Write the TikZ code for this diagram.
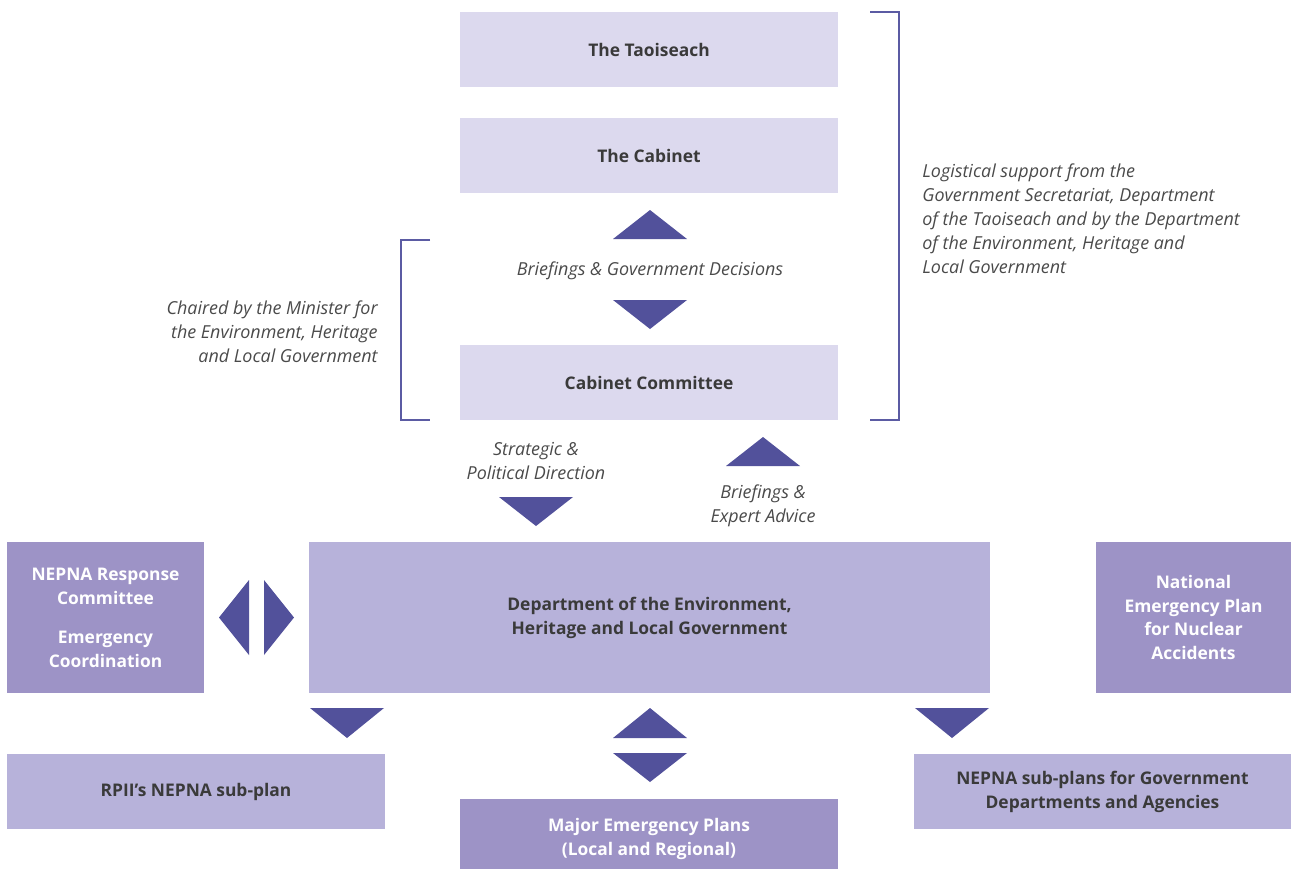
\documentclass[tikz,border=0pt]{standalone}
\usepackage{fontspec}
\setmainfont{Open Sans}
\usepackage{xcolor}
\usepackage{tikz}
\usetikzlibrary{positioning,calc}

\definecolor{lilac}{HTML}{DCD9EE}
\definecolor{midlilac}{HTML}{B7B2DA}
\definecolor{darklilac}{HTML}{9D93C6}
\definecolor{arrowblue}{HTML}{52519B}
\definecolor{bracketblue}{HTML}{5B5BA3}
\definecolor{textgrey}{HTML}{3A3A3A}
\definecolor{notegrey}{HTML}{4A4A4A}

\begin{document}
\begin{tikzpicture}[x=0.02cm, y=-0.02cm,
    box/.style={fill=lilac, minimum width=7.56cm, minimum height=1.5cm, inner sep=0pt,
        align=center, font=\fontsize{9.9}{13.6}\selectfont\bfseries, text=textgrey},
    midbox/.style={box, fill=midlilac},
    darkbox/.style={box, fill=darklilac, text=white},
    note/.style={font=\fontsize{10.2}{13.6}\selectfont\itshape, text=notegrey, inner sep=0pt},
    tri/.style={fill=arrowblue},
    brace/.style={draw=bracketblue, line width=0.6pt}]
    \useasboundingbox (0,0) rectangle (1291,870);

    % the chain at the top
    \node[box] (taoiseach) at (649,49.5) {The Taoiseach};
    \node[box] (cabinet) at (649,155.5) {The Cabinet};
    \node[box] (committee) at (649,382.5) {Cabinet Committee};

    \fill[tri] (613,239) -- (650,210) -- (687,239) -- cycle;
    \node[note] (briefgov) at (650,271) {Briefings \& Government Decisions};
    \fill[tri] (613,300) -- (650,329) -- (687,300) -- cycle;

    % brackets and their notes
    \draw[brace] (430,240) -- (401,240) -- (401,420) -- (430,420);
    \node[note, align=right, anchor=east] (chaired) at (378,332)
        {Chaired by the Minister for\\the Environment, Heritage\\and Local Government};
    \draw[brace] (870,12) -- (899,12) -- (899,420) -- (870,420);
    \node[note, align=left, anchor=west] (logistic) at (922,219)
        {Logistical support from the\\Government Secretariat, Department\\of the Taoiseach and by the Department\\of the Environment, Heritage and\\Local Government};

    % between committee and department
    \node[note, align=center] (strategic) at (536,461) {Strategic \&\\Political Direction};
    \fill[tri] (499,497) -- (536,526) -- (573,497) -- cycle;
    \fill[tri] (726,466) -- (763,437) -- (800,466) -- cycle;
    \node[note, align=center] (expert) at (763,506) {Briefings \&\\Expert Advice};

    % middle row
    \node[midbox, minimum width=13.62cm, minimum height=3.02cm] (dept) at (649.5,617.5)
        {Department of the Environment,\\Heritage and Local Government};
    \node[darkbox, minimum width=3.94cm, minimum height=3.02cm] (response) at (105.5,617.5)
        {NEPNA Response\\Committee\\[0.3cm]Emergency\\Coordination};
    \node[darkbox, minimum width=3.9cm, minimum height=3.02cm] (national) at (1193.5,617.5)
        {National\\Emergency Plan\\for Nuclear\\Accidents};

    \fill[tri] (249,580) -- (219,617.5) -- (249,655) -- cycle;
    \fill[tri] (264,580) -- (294,617.5) -- (264,655) -- cycle;

    % bottom row
    \fill[tri] (310,708) -- (347,738) -- (384,708) -- cycle;
    \fill[tri] (613,738) -- (650,708) -- (687,738) -- cycle;
    \fill[tri] (613,753) -- (650,782) -- (687,753) -- cycle;
    \fill[tri] (915,708) -- (952,738) -- (989,708) -- cycle;

    \node[midbox] (rpii) at (196,791.5) {RPII’s NEPNA sub-plan};
    \node[darkbox, minimum height=1.4cm] (major) at (649,834) {};
    \node[darkbox, fill=none] (majortext) at (649,839)
        {Major Emergency Plans\\(Local and Regional)};
    \node[midbox, minimum width=7.54cm] (subplans) at (1102.5,791.5)
        {NEPNA sub-plans for Government\\Departments and Agencies};
\end{tikzpicture}
\end{document}
